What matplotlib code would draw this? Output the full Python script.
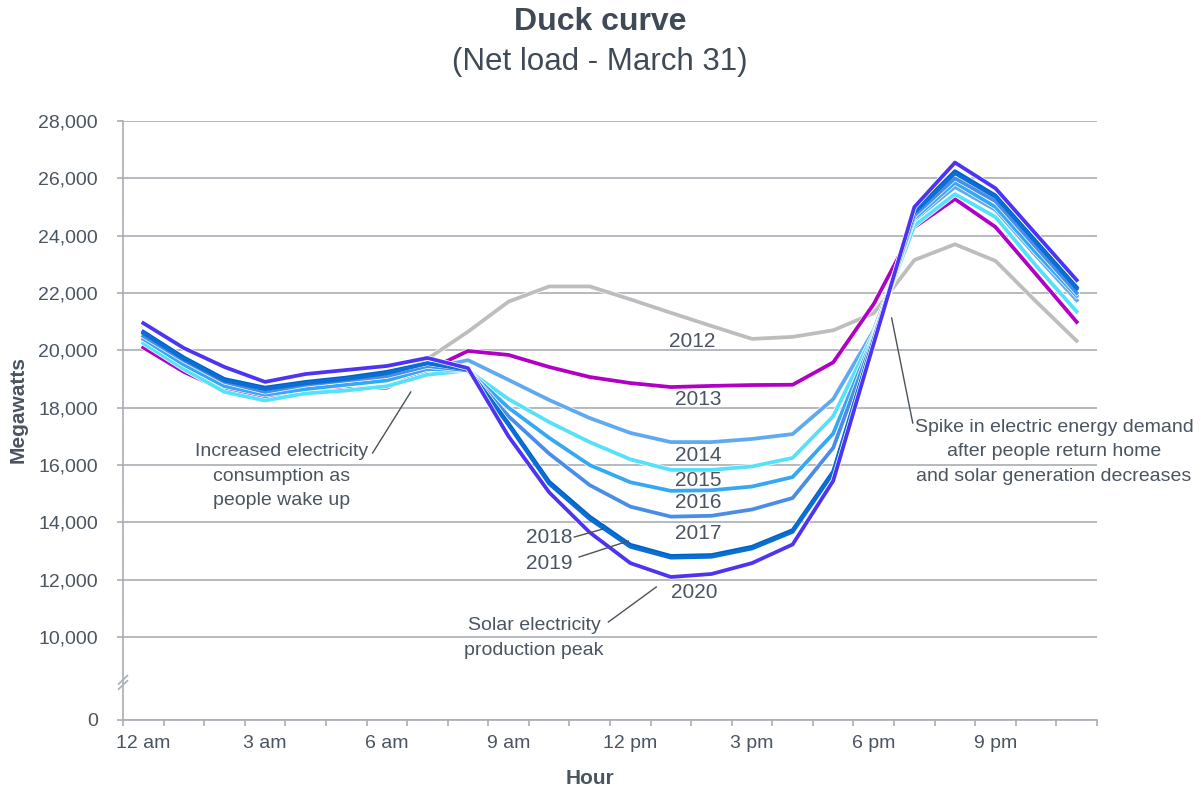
import numpy as np
import matplotlib
matplotlib.use("Agg")
import matplotlib.pyplot as plt
from matplotlib import patheffects as pe

plt.rcParams['font.family'] = ['Liberation Sans', 'DejaVu Sans']

hours = list(range(24))
hour_ticks = [0, 3, 6, 9, 12, 15, 18, 21]
hour_labels = ['12 am', '3 am', '6 am', '9 am', '12 pm', '3 pm', '6 pm', '9 pm']

years = ['2012', '2013', '2014', '2015', '2016', '2017', '2018', '2019', '2020']
load_2012 = [20300, 19400, 18700, 18500, 18700, 18850, 19000, 19700, 20650, 21700, 22230, 22230,
             21780, 21310, 20850, 20400, 20470, 20700, 21300, 23150, 23700, 23120, 21700, 20330]
load_2013 = [20100, 19250, 18600, 18350, 18500, 18650, 18700, 19300, 19980, 19840, 19420, 19070,
             18860, 18720, 18760, 18790, 18800, 19580, 21620, 24300, 25280, 24300, 22650, 20990]
load_2014 = [20350, 19500, 18850, 18500, 18650, 18800, 18950, 19350, 19660, 18970, 18270, 17640,
             17120, 16800, 16800, 16910, 17080, 18300, 20700, 24550, 25700, 24900, 23300, 21750]
load_2015 = [20250, 19350, 18550, 18250, 18500, 18600, 18750, 19150, 19300, 18300, 17500, 16800,
             16200, 15830, 15830, 15950, 16250, 17700, 20600, 24350, 25450, 24650, 22950, 21350]
load_2016 = [20400, 19500, 18750, 18450, 18650, 18800, 18950, 19350, 19300, 18000, 16950, 16000,
             15400, 15100, 15120, 15250, 15580, 17100, 20500, 24600, 25850, 25000, 23400, 21900]
load_2017 = [20500, 19650, 18900, 18550, 18800, 18950, 19100, 19450, 19300, 17700, 16400, 15300,
             14550, 14200, 14230, 14450, 14850, 16600, 20450, 24700, 26000, 25200, 23600, 22000]
load_2018 = [20650, 19750, 19000, 18700, 18900, 19050, 19250, 19550, 19350, 17450, 15420, 14200,
             13220, 12830, 12860, 13150, 13730, 15780, 20400, 24850, 26250, 25400, 23800, 22200]
load_2019 = [20600, 19700, 18950, 18650, 18850, 19000, 19200, 19550, 19320, 17400, 15350, 14120,
             13150, 12770, 12800, 13090, 13670, 15720, 20350, 24800, 26180, 25350, 23750, 22150]
load_2020 = [20950, 20080, 19420, 18900, 19175, 19315, 19455, 19735, 19380, 17000, 15050, 13650,
             12580, 12095, 12200, 12580, 13230, 15450, 20250, 25000, 26550, 25650, 24050, 22450]
loads = [load_2012, load_2013, load_2014, load_2015, load_2016, load_2017, load_2018, load_2019, load_2020]
colors = ['#BDBDBD', '#B100C4', '#5FA9F2', '#55E1F7', '#34A8F3', '#4A8DE6', '#0063C6', '#0A6ED4', '#4C34F2']

# the axis is broken between 0 and 10,000; "0" sits at this compressed value
ZERO = 7107
grid_c = '#A9AEB5'
text_c = '#4A5561'

fig = plt.figure(figsize=(12.01, 7.91), dpi=100)
ax = fig.add_axes([123/1201, 71/791, 974/1201, 599/791])

for yr, vals, col in zip(years, loads, colors):
    effects = [pe.Stroke(linewidth=3.7, foreground='white'), pe.Normal()]
    if yr == '2019':
        effects = None  # 2018 and 2019 overlap into one thick line
    ax.plot(hours, vals, color=col, lw=2.7, zorder=3, path_effects=effects)

ax.set_xlim(-0.5, 23.5)
ax.set_ylim(ZERO, 28000)
grid_vals = list(range(10000, 28001, 2000))
ax.set_yticks([ZERO] + grid_vals)
ax.set_yticklabels(['0'] + [f'{v:,}' for v in grid_vals])
ax.set_xticks(hour_ticks)
ax.set_xticklabels(hour_labels)
ax.set_xticks(np.arange(-0.5, 24, 1), minor=True)
ax.tick_params(axis='x', which='major', length=0, pad=11, labelsize=14, labelcolor=text_c)
ax.tick_params(axis='x', which='minor', length=4, width=1.2, color=grid_c)
ax.tick_params(axis='y', length=4, width=1.2, color=grid_c, pad=14, labelsize=14, labelcolor=text_c)
ax.grid(axis='y', color=grid_c, lw=1.2, zorder=0)
for s in ['top', 'right']:
    ax.spines[s].set_visible(False)
for s in ['left', 'bottom']:
    ax.spines[s].set_color(grid_c)
    ax.spines[s].set_linewidth(1.2)

# axis break marks
for dy in [0.0, -0.0085]:
    ax.plot([-0.0045, 0.0045], [0.060 + dy, 0.074 + dy], transform=ax.transAxes,
            color=grid_c, lw=1.2, clip_on=False, zorder=5)

fig.text(0.4996, 1 - 22/791, 'Duck curve', ha='center', va='center', fontsize=23,
         fontweight='bold', color='#3F4A56')
fig.text(0.4996, 1 - 62/791, '(Net load - March 31)', ha='center', va='center', fontsize=22.5,
         color='#3F4A56')
fig.text(18/1201, 0.482, 'Megawatts', rotation=90, ha='center', va='center', fontsize=15,
         fontweight='bold', color=text_c)
fig.text(590/1201, 1 - 778/791, 'Hour', ha='center', va='center', fontsize=15,
         fontweight='bold', color=text_c)

# year labels
year_pos = {'2012': (13.53, 20326), '2013': (13.68, 18303), '2014': (13.68, 16350),
            '2015': (13.68, 15478), '2016': (13.68, 14676), '2017': (13.68, 13629),
            '2020': (13.58, 11537), '2018': (10.0, 13490), '2019': (10.0, 12583)}
for yr in years:
    x, y = year_pos[yr]
    ax.text(x, y, yr, ha='center', va='center', fontsize=15, color=text_c, zorder=6)

line_c = '#4A525A'
ax.plot([10.62, 11.33], [13490, 13769], color=line_c, lw=1, zorder=6)
ax.plot([10.74, 11.95], [12792, 13350], color=line_c, lw=1, zorder=6)

notes = [
    ('Increased electricity\nconsumption as\npeople wake up', (3.41, 15617), (5.65, 16420), (6.59, 18547)),
    ('Solar electricity\nproduction peak', (9.63, 9967), (11.46, 10525), (12.64, 11746)),
    ('Spike in electric energy demand\nafter people return home\nand solar generation decreases',
     (22.44, 16455), (18.96, 17466), (18.44, 21129)),
]
for txt, (tx, ty), (x0, y0), (x1, y1) in notes:
    ax.text(tx, ty, txt, ha='center', va='center', fontsize=14, color=text_c,
            linespacing=1.55, zorder=6, clip_on=False)
    ax.plot([x0, x1], [y0, y1], color=line_c, lw=1, zorder=6)

fig.savefig('out.png', dpi=100)
